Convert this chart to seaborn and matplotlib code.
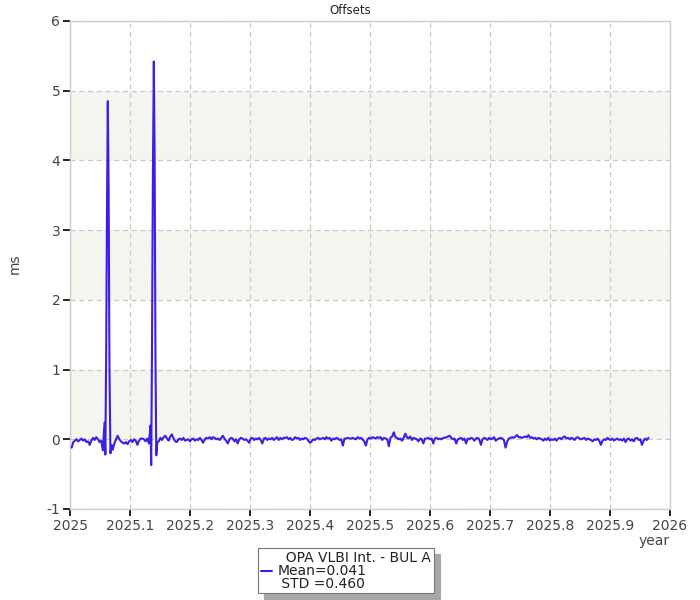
import numpy as np
import pandas as pd
import matplotlib
matplotlib.use("Agg")
import matplotlib.pyplot as plt
import seaborn as sns

# ---------------- data ----------------
base_a = [-0.12, -0.04, -0.02, 0.00, -0.03, -0.01, 0.01, -0.02, 0.00, -0.04,
          -0.03, -0.08, -0.02, 0.02, -0.01, 0.03, 0.00, -0.04, -0.02, -0.16]
spike1_days = [21.0, 21.5, 22.0, 22.5, 23.0, 23.5, 24.0, 24.6, 25.3, 26.0]
spike1_vals = [0.24, -0.22, 1.20, 3.27, 4.85, 3.60, 1.06, -0.20, -0.08, -0.15]
base_b = [-0.06, 0.00, 0.05, 0.00, -0.03, -0.05, -0.06, -0.04, -0.07, -0.03,
          -0.01, -0.04, 0.00, -0.02, -0.08, -0.02, 0.01, 0.01, 0.00, -0.03,
          0.01, -0.06]
spike2_days = [49.0, 49.4, 49.9, 50.4, 51.0, 51.5, 52.0, 52.5, 53.1]
spike2_vals = [0.20, -0.37, 1.32, 3.67, 5.42, 4.00, 1.18, -0.23, -0.04]
base_c = [-0.03, 0.02, -0.01, 0.03, 0.05, 0.01, -0.02, 0.04, 0.07, 0.01,
          -0.03, -0.04, 0.00, 0.01, -0.01, 0.02, -0.02, -0.01, 0.00, -0.03,
          0.00, 0.01, -0.02, 0.00, -0.01, 0.02, -0.01, -0.05, 0.00, 0.02,
          0.01, 0.03, 0.00, 0.03, 0.02, 0.00, 0.01, -0.01, 0.02, 0.05,
          0.01, -0.02, -0.06, 0.00, 0.02, 0.01, -0.03, 0.00, -0.06, 0.00,
          0.02, 0.01, -0.01, 0.00, -0.02, -0.05, 0.01, 0.02, -0.01, 0.01,
          0.00, 0.02, -0.01, -0.06, 0.01, 0.02, -0.01, 0.01, 0.00, 0.02,
          -0.01, 0.01, 0.03, -0.01, 0.02, 0.00, 0.02, 0.02, 0.03, 0.00,
          0.02, -0.01, 0.00, 0.03, 0.01, 0.02, -0.01, 0.01, 0.00, 0.02,
          0.01, -0.02, -0.05, -0.03, 0.00, -0.01, 0.01, 0.02, 0.00, 0.01,
          0.02, 0.00, 0.03, 0.01, 0.02, -0.02, 0.01, 0.00, 0.02, 0.01,
          -0.01, 0.00, -0.09, 0.01, 0.01, 0.02, 0.01, 0.01, 0.02, 0.01,
          0.00, 0.03, 0.01, 0.02, 0.00, -0.03, -0.09, 0.00, 0.02, 0.01,
          0.03, 0.02, 0.01, 0.03, 0.02, 0.03, -0.01, 0.02, 0.01, 0.00,
          -0.10, 0.02, 0.04, 0.10, 0.03, 0.02, 0.00, 0.01, -0.02, 0.02,
          0.08, 0.03, 0.01, 0.04, -0.01, 0.02, 0.01, 0.00, -0.03, 0.01,
          0.00, -0.06, 0.01, 0.01, 0.02, 0.00, 0.01, -0.06, 0.01, 0.02,
          0.00, 0.01, 0.00, 0.02, 0.02, 0.03, 0.04, 0.05, 0.02, 0.00,
          0.01, -0.06, 0.00, 0.01, 0.02, -0.01, 0.01, -0.06, 0.01, 0.00,
          0.02, 0.01, -0.02, 0.01, 0.02, 0.00, -0.08, 0.00, 0.02, 0.01,
          -0.01, 0.02, 0.00, 0.01, 0.03, -0.02, 0.00, 0.01, 0.02, 0.01,
          -0.01, -0.12, -0.03, 0.01, 0.02, 0.03, 0.02, 0.04, 0.06, 0.03,
          0.03, 0.02, 0.03, 0.04, 0.03, 0.06, 0.02, 0.03, 0.01, 0.02,
          0.00, 0.02, 0.01, 0.00, -0.02, 0.01, -0.01, 0.02, -0.02, 0.00,
          -0.01, 0.01, -0.02, 0.01, 0.02, 0.00, 0.03, 0.04, 0.01, 0.02,
          0.00, 0.02, 0.01, -0.01, 0.02, 0.03, 0.01, 0.00, 0.01, 0.02,
          -0.01, 0.01, 0.00, -0.01, -0.03, 0.00, -0.01, 0.01, -0.02, -0.08,
          -0.02, 0.00, -0.01, 0.02, 0.00, -0.01, 0.01, -0.02, 0.00, 0.01,
          -0.01, 0.00, -0.02, 0.01, -0.04, 0.00, 0.01, -0.02, 0.00, -0.03,
          0.01, 0.02, -0.01, 0.00, -0.08, -0.02, 0.01, -0.01, 0.02]

days = np.concatenate([np.arange(1, 21), spike1_days, np.arange(27, 49),
                       spike2_days, np.arange(54, 353)]).astype(float)
vals = np.concatenate([base_a, spike1_vals, base_b, spike2_vals, base_c])
years = 2025.0 + days / 365.0

x_ticks = [2025.0, 2025.1, 2025.2, 2025.3, 2025.4, 2025.5,
           2025.6, 2025.7, 2025.8, 2025.9, 2026.0]
x_tick_labels = ["2025", "2025.1", "2025.2", "2025.3", "2025.4", "2025.5",
                 "2025.6", "2025.7", "2025.8", "2025.9", "2026"]
y_ticks = [-1, 0, 1, 2, 3, 4, 5, 6]
bands = [(0, 1), (2, 3), (4, 5)]
series_label = "  OPA VLBI Int. - BUL A\nMean=0.041\n STD =0.460"

df = pd.DataFrame({"year": years, "offset": vals})

# ---------------- plot ----------------
sns.set_style("white")
plt.rcParams["font.family"] = ["DejaVu Sans"]
plt.rcParams["axes.unicode_minus"] = False

fig = plt.figure(figsize=(7, 6), dpi=100)
ax = fig.add_axes([0.1, 0.1517, 0.857, 0.8133])

for lo, hi in bands:
    ax.axhspan(lo, hi, color="#f5f5f0", zorder=0, lw=0)

sns.lineplot(data=df, x="year", y="offset", ax=ax, color="#3a1fe6",
             linewidth=1.5, estimator=None, sort=False, label=series_label,
             zorder=3)

ax.set_xlim(2025, 2026)
ax.set_ylim(-1, 6)
ax.set_xticks(x_ticks)
ax.set_xticklabels(x_tick_labels)
ax.set_yticks(y_ticks)

ax.grid(True, linestyle=(0, (4, 3)), color="#c8c8c8", linewidth=0.9, zorder=1)
ax.set_axisbelow(True)
for s in ax.spines.values():
    s.set_color("#cccccc")
    s.set_linewidth(1.0)

ax.tick_params(axis="both", which="major", direction="out", length=5,
               width=1.2, color="black", labelsize=10, labelcolor="#444444",
               pad=2, bottom=True, left=True)

ax.set_xlabel("")
ax.set_ylabel("")
fig.text(15 / 700, 1 - 264 / 600, "ms", fontsize=10, color="#444444",
         ha="center", va="center", rotation=90)
fig.text(654 / 700, 1 - 541 / 600, "year", fontsize=10, color="#444444",
         ha="center", va="center")
fig.text(350 / 700, 1 - 10 / 600, "Offsets", fontsize=8.5, color="#222222",
         ha="center", va="center")

leg = ax.legend(loc="upper left", bbox_to_anchor=(258 / 700, 1 - 548 / 600),
                bbox_transform=fig.transFigure, frameon=True, fancybox=False,
                shadow={"color": "#a8a8a8", "alpha": 1.0, "ox": 4, "oy": -4},
                edgecolor="#777777", fontsize=10, handlelength=0.8,
                handletextpad=0.4, borderpad=0.2, borderaxespad=0,
                labelspacing=0.2)
leg.get_frame().set_linewidth(0.8)
for t in leg.get_texts():
    t.set_color("#222222")
    t.set_linespacing(0.9)

fig.savefig("out.png", dpi=100)
